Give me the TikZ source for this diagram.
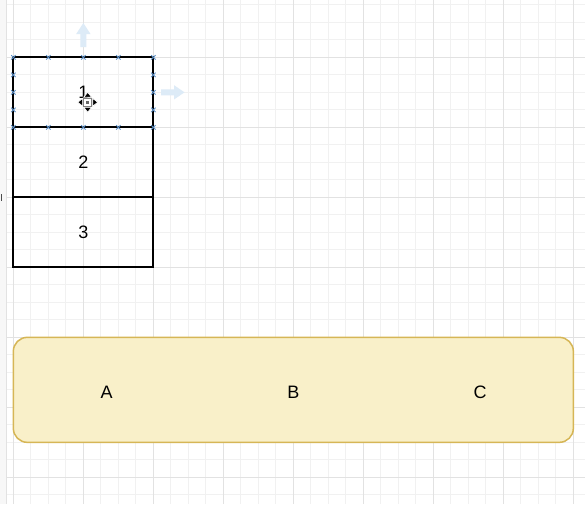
\documentclass[tikz,border=0pt]{standalone}
\usepackage{fontspec}
\setmainfont{Liberation Sans}
\usetikzlibrary{positioning,calc}
\definecolor{gridminor}{HTML}{F1F1F1}
\definecolor{gridmajor}{HTML}{E2E2E2}
\definecolor{barfill}{HTML}{F9F0C9}
\definecolor{barline}{HTML}{D6B656}
\definecolor{handle}{HTML}{5C8FC6}
\definecolor{hint}{HTML}{DDEBF7}
\tikzset{
  cell/.style={draw=black, line width=1.8pt, minimum width=140pt, minimum height=70pt,
    inner sep=0pt, outer sep=0pt, font=\fontsize{18}{21}\selectfont},
  bar/.style={draw=barline, fill=barfill, line width=1.5pt, rounded corners=14pt,
    minimum width=560pt, minimum height=105pt, inner sep=0pt, outer sep=0pt},
  barlabel/.style={font=\fontsize{18}{21}\selectfont, inner sep=0pt},
  handlemark/.style={draw=handle, line width=0.9pt}
}
\begin{document}
\begin{tikzpicture}[x=1pt, y=-1pt]
\useasboundingbox (0,0) rectangle (585,504);
\fill[white] (0,0) rectangle (585,504);
% canvas strip and grid
\fill[gray!6] (0,0) rectangle (6.5,504);
\draw[gridmajor, line width=0.8pt] (6.5,0) -- (6.5,504);
\foreach \k in {0,...,33} {
  \draw[gridminor, line width=0.9pt] (13.333+17.5*\k,0) -- (13.333+17.5*\k,504);
}
\foreach \k in {-3,...,25} {
  \draw[gridminor, line width=0.9pt] (6.5,57.333+17.5*\k) -- (585,57.333+17.5*\k);
}
\foreach \k in {0,...,8} {
  \draw[gridmajor, line width=0.9pt] (13.333+70*\k,0) -- (13.333+70*\k,504);
}
\foreach \k in {-1,...,6} {
  \draw[gridmajor, line width=0.9pt] (6.5,57.333+70*\k) -- (585,57.333+70*\k);
}
\draw[black!70, line width=0.8pt] (1.5,194) -- (1.5,201);
% hover arrows
\fill[hint] (83.333,23) -- (90.5,34) -- (86.333,34) -- (86.333,47) -- (80.333,47)
  -- (80.333,34) -- (76.2,34) -- cycle;
\fill[hint] (184.5,92.333) -- (174,85.2) -- (174,89.333) -- (161,89.333) -- (161,95.333)
  -- (174,95.333) -- (174,99.5) -- cycle;
% stacked cells
\node[cell] (cell1) at (83.333,92.333) {1};
\node[cell, below=0pt of cell1] (cell2) {2};
\node[cell, below=0pt of cell2] (cell3) {3};
% selection handles
\foreach \x in {13.333,48.333,83.333,118.333,153.333} {
  \foreach \y in {57.333,127.333} {
    \draw[handlemark] (\x-2.2,\y-2.2) -- (\x+2.2,\y+2.2) (\x-2.2,\y+2.2) -- (\x+2.2,\y-2.2);
  }
}
\foreach \x in {13.333,153.333} {
  \foreach \y in {74.833,92.333,109.833} {
    \draw[handlemark] (\x-2.2,\y-2.2) -- (\x+2.2,\y+2.2) (\x-2.2,\y+2.2) -- (\x+2.2,\y-2.2);
  }
}
% move cursor
\begin{scope}[shift={(87.7,102.3)}]
\fill[black, draw=white, line width=0.7pt] (0,-10) -- (4,-5) -- (-4,-5) -- cycle;
\fill[black, draw=white, line width=0.7pt] (0,10) -- (4,5) -- (-4,5) -- cycle;
\fill[black, draw=white, line width=0.7pt] (-10,0) -- (-5,4) -- (-5,-4) -- cycle;
\fill[black, draw=white, line width=0.7pt] (10,0) -- (5,4) -- (5,-4) -- cycle;
\filldraw[fill=white, draw=gray, line width=0.9pt] (-3.8,-3.8) rectangle (3.8,3.8);
\fill[gray!80!black] (-1.6,-1.6) rectangle (1.6,1.6);
\end{scope}
% container
\node[bar] (bar) at (293.333,389.833) {};
\node[barlabel] (lblA) at ($(bar.west)!1/6!(bar.east) + (0,2)$) {A};
\node[barlabel] (lblB) at ($(bar.center) + (0,2)$) {B};
\node[barlabel] (lblC) at ($(bar.west)!5/6!(bar.east) + (0,2)$) {C};
\end{tikzpicture}
\end{document}
